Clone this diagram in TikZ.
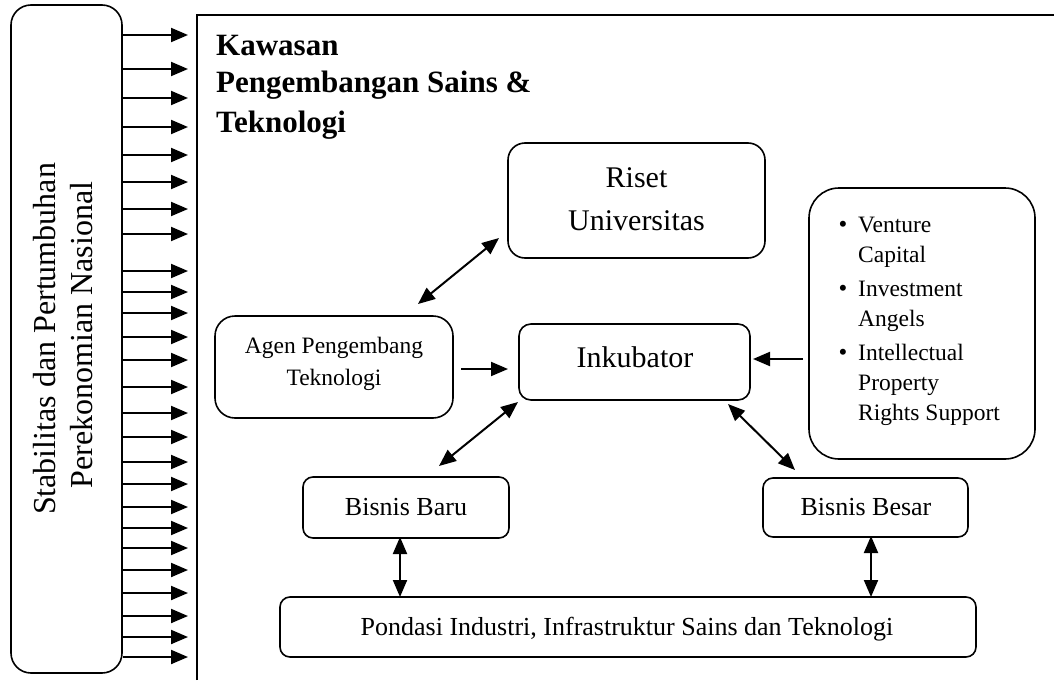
\documentclass[tikz,border=0pt]{standalone}
\usepackage{fontspec}
\setmainfont{Liberation Serif}
\usetikzlibrary{arrows.meta}
\begin{document}
\begin{tikzpicture}[x=1pt,y=-1pt,
  box/.style={draw, line width=1.6pt, rounded corners=#1, inner sep=0pt},
  box/.default=10pt,
  tipa/.tip={Triangle[length=17pt,width=14pt]},
  conn/.style={line width=2pt, -tipa},
  conn2/.style={line width=2pt, tipa-tipa},
  lbl/.style={anchor=base, inner sep=0pt, font=\fontsize{#1}{#1}\selectfont},
  lblw/.style={anchor=base west, inner sep=0pt, font=\fontsize{#1}{#1}\selectfont},
  ttl/.style={anchor=base west, inner sep=0pt, font=\fontsize{31}{31}\selectfont\bfseries},
]
\useasboundingbox (0,0) rectangle (1054,680);
\fill[white] (0,0) rectangle (1054,680);

% outer frame
\draw[line width=1.6pt] (197,680) -- (197,15) -- (1054,15);

% boxes
\node[box=20pt, minimum width=111pt, minimum height=668pt] (stab) at (66.5,339) {};
\node[box=17pt, minimum width=257pt, minimum height=115pt] (riset) at (636.5,200.5) {};
\node[box=12pt, minimum width=231pt, minimum height=76pt] (inku) at (634.5,362) {};
\node[box=20pt, minimum width=238pt, minimum height=102pt] (agen) at (334,367) {};
\node[box=30pt, minimum width=226pt, minimum height=271pt] (fund) at (922,323.5) {};
\node[box=10pt, minimum width=206pt, minimum height=61pt] (bbaru) at (406,507.5) {};
\node[box=10pt, minimum width=205pt, minimum height=59pt] (bbesar) at (865.5,507.5) {};
\node[box=10pt, minimum width=696pt, minimum height=60pt] (pond) at (628,627) {};

% texts
\node[lbl=32, rotate=90] (v1) at (55,339) {Stabilitas dan Pertumbuhan};
\node[lbl=32, rotate=90] (v2) at (92,335) {Perekonomian Nasional};

\node[ttl] (t1) at (216,55) {Kawasan};
\node[ttl] (t2) at (216,92) {Pengembangan Sains \&};
\node[ttl] (t3) at (216,132) {Teknologi};

\node[lbl=30] (tr1) at (636.5,187) {Riset};
\node[lbl=30] (tr2) at (636.5,230) {Universitas};
\node[lbl=30] (tink) at (635,367) {Inkubator};
\node[lbl=23.5] (ta1) at (334,353) {Agen Pengembang};
\node[lbl=23.5] (ta2) at (334,385) {Teknologi};
\node[lbl=26] (tbaru) at (406,515) {Bisnis Baru};
\node[lbl=26] (tbesar) at (866,515) {Bisnis Besar};
\node[lbl=26] (tpond) at (627,635) {Pondasi Industri, Infrastruktur Sains dan Teknologi};

\node[lbl=25] (b1) at (843,232) {\textbullet};
\node[lbl=25] (b2) at (843,296) {\textbullet};
\node[lbl=25] (b3) at (843,360) {\textbullet};
\node[lblw=23.5] (l1) at (858,232) {Venture};
\node[lblw=23.5] (l2) at (858,262) {Capital};
\node[lblw=23.5] (l3) at (858,296) {Investment};
\node[lblw=23.5] (l4) at (858,326) {Angels};
\node[lblw=23.5] (l5) at (858,360) {Intellectual};
\node[lblw=23.5] (l6) at (858,390) {Property};
\node[lblw=23.5] (l7) at (858,420) {Rights Support};

% connector end points
\coordinate (c1a) at (418,304);
\coordinate (c1b) at (499,238);
\coordinate (c2a) at (461,369);
\coordinate (c2b) at (508,369);
\coordinate (c3a) at (803,359);
\coordinate (c3b) at (753,359);
\coordinate (c4a) at (518,402);
\coordinate (c4b) at (439,466);
\coordinate (c5a) at (728,404);
\coordinate (c5b) at (795,470);
\coordinate (c6a) at (400,537);
\coordinate (c6b) at (400,597);
\coordinate (c7a) at (871,536);
\coordinate (c7b) at (871,597);

\draw[conn2] (c1a) -- (c1b);
\draw[conn] (c2a) -- (c2b);
\draw[conn] (c3a) -- (c3b);
\draw[conn2] (c4a) -- (c4b);
\draw[conn2] (c5a) -- (c5b);
\draw[conn2] (c6a) -- (c6b);
\draw[conn2] (c7a) -- (c7b);

% arrows from left box
\foreach \yy in {35,69,98,127,155,182,209,234,271,292,313,337,360,387,413,437,462,484,507,528,548,570,593,616,637,657}
  \draw[conn] (stab.east |- 0,\yy) -- (188,\yy);
\end{tikzpicture}
\end{document}
